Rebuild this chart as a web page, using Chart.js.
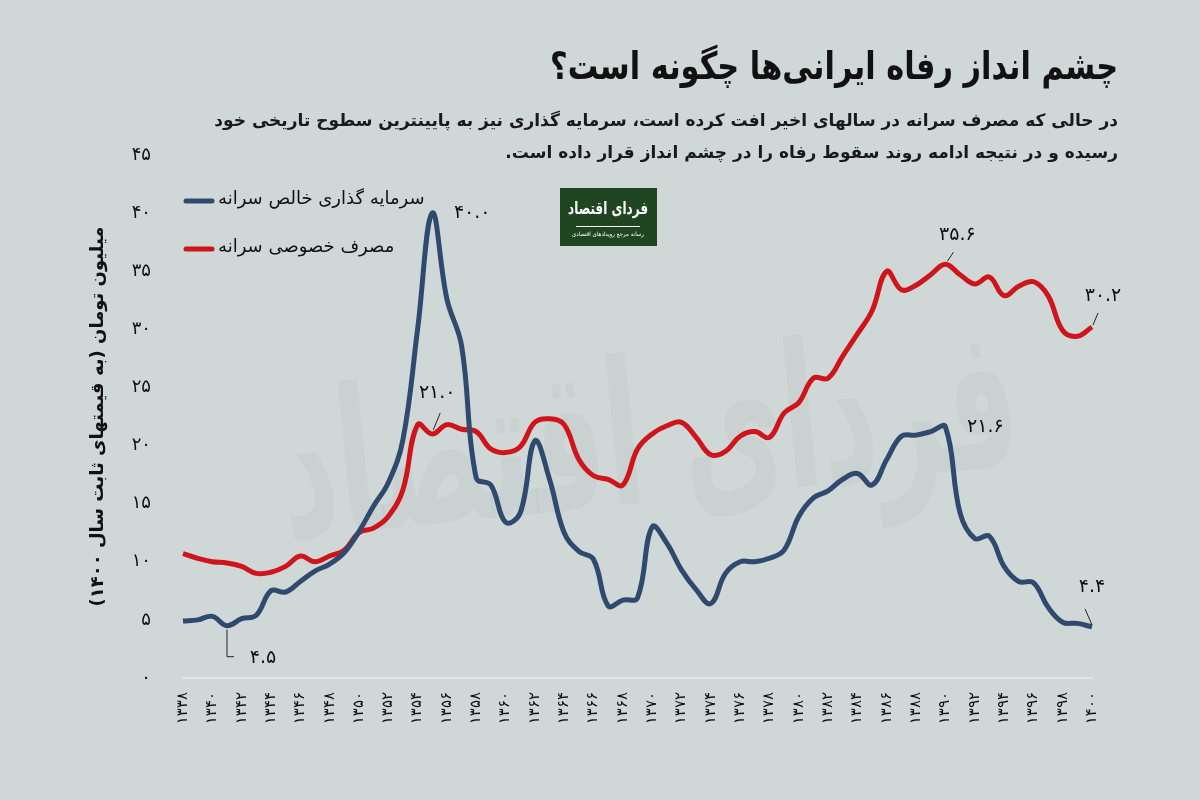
<!DOCTYPE html>
<html>
<head>
<meta charset="utf-8">
<script src="https://cdn.jsdelivr.net/npm/chart.js@4.4.0/dist/chart.umd.min.js"></script>
<style>
  body { margin: 0; background: #cfd8d7; }
  #wrap { position: relative; width: 1200px; height: 800px; background: #cfd8d7; overflow: hidden; }
  #title { position: absolute; right: 82px; top: 44px; direction: rtl; white-space: nowrap;
           font: bold 38px 'DejaVu Sans'; color: #111; transform: scaleX(0.8); transform-origin: right center; }
  #subtitle { position: absolute; right: 82px; top: 104px; direction: rtl; text-align: right;
              font: bold 17px 'DejaVu Sans'; line-height: 32px; color: #1a1a1a; }
  canvas { position: absolute; left: 0; top: 0; direction: rtl; }
</style>
</head>
<body>
<div id="wrap">
  <canvas id="welfareChart" width="1200" height="800" dir="rtl"></canvas>
  <div id="title">چشم انداز رفاه ایرانی‌ها چگونه است؟</div>
  <div id="subtitle">در حالی که مصرف سرانه در سالهای اخیر افت کرده است، سرمایه گذاری نیز به پایینترین سطوح تاریخی خود<br>رسیده و در نتیجه ادامه روند سقوط رفاه را در چشم انداز قرار داده است.</div>
</div>
<script>
// years (solar hijri)
const years = [1338, 1339, 1340, 1341, 1342, 1343, 1344, 1345, 1346, 1347, 1348, 1349, 1350,
  1351, 1352, 1353, 1354, 1355, 1356, 1357, 1358, 1359, 1360, 1361, 1362, 1363, 1364, 1365,
  1366, 1367, 1368, 1369, 1370, 1371, 1372, 1373, 1374, 1375, 1376, 1377, 1378, 1379, 1380,
  1381, 1382, 1383, 1384, 1385, 1386, 1387, 1388, 1389, 1390, 1391, 1392, 1393, 1394, 1395,
  1396, 1397, 1398, 1399, 1400];

// net investment per capita (million toman, 1400 prices)
const investment = [4.9, 5.0, 5.3, 4.5, 5.1, 5.4, 7.5, 7.4, 8.3, 9.2, 9.8, 10.8, 12.6,
  14.8, 16.8, 20.5, 30.0, 40.0, 32.6, 28.6, 17.2, 16.6, 13.4, 14.2, 20.4, 17.1, 12.5, 10.9,
  10.2, 6.2, 6.7, 6.9, 13.0, 11.6, 9.3, 7.6, 6.4, 9.0, 10.0, 10.0, 10.3, 11.0, 13.9,
  15.5, 16.1, 17.1, 17.6, 16.6, 18.8, 20.8, 20.9, 21.2, 21.6, 14.2, 12.0, 12.2, 9.6, 8.3,
  8.2, 6.1, 4.8, 4.7, 4.4];

// private consumption per capita
const consumption = [10.7, 10.3, 10.0, 9.9, 9.6, 9.0, 9.1, 9.6, 10.5, 10.0, 10.5, 11.0, 12.5,
  12.9, 13.9, 16.2, 21.8, 21.0, 21.8, 21.4, 21.2, 19.7, 19.4, 19.9, 22.0, 22.3, 21.8, 18.8,
  17.4, 17.1, 16.6, 19.7, 21.0, 21.7, 22.0, 20.7, 19.2, 19.5, 20.8, 21.2, 20.7, 22.8, 23.7,
  25.8, 25.8, 27.7, 29.6, 31.6, 35.0, 33.4, 33.8, 34.7, 35.6, 34.7, 33.9, 34.5, 32.9, 33.7,
  34.1, 32.9, 29.9, 29.4, 30.2];

const seriesNames = ['سرمایه گذاری خالص سرانه', 'مصرف خصوصی سرانه'];
const yTitle = 'میلیون تومان (به قیمتهای ثابت سال ۱۴۰۰)';

// labelled points: [dataset, year]
const calloutYears = [[0, 1341], [0, 1355], [1, 1355], [1, 1390], [0, 1390], [1, 1400], [0, 1400]];

const BLUE = '#2f4a6e';
const RED = '#cf151b';
const FONT = "'DejaVu Sans'";

function toFa(s) {
  return String(s).replace(/\d/g, d => '۰۱۲۳۴۵۶۷۸۹'[d]);
}

// offsets for the callouts (label centre + leader line), same order as calloutYears
const calloutStyle = [
  { dx: 36, dy: 32, leader: [[0, 4], [0, 31], [7, 31]] },
  { dx: 40, dy: 0, leader: null },
  { dx: 5, dy: -41, leader: [[1, -4], [8, -21]] },
  { dx: 12, dy: -29, leader: [[2, -3], [8, -12]] },
  { dx: 40, dy: 0, leader: null },
  { dx: 11, dy: -31, leader: [[1, -2], [6, -14]] },
  { dx: 0, dy: -40, leader: [[0, -2], [-7, -18]] }
];

const backdrop = {
  id: 'backdrop',
  beforeDatasetsDraw(chart) {
    const ctx = chart.ctx;
    ctx.save();
    // faint watermark
    ctx.translate(650, 450);
    ctx.rotate(-0.1);
    ctx.fillStyle = 'rgba(140,150,150,0.09)';
    ctx.font = 'bold 200px ' + FONT;
    ctx.textAlign = 'center';
    ctx.textBaseline = 'middle';
    ctx.fillText('فردای اقتصاد', 0, 0, 740);
    ctx.restore();

    // logo box
    ctx.save();
    ctx.fillStyle = '#1f4621';
    ctx.fillRect(560, 188, 97, 58);
    ctx.fillStyle = '#fff';
    ctx.textAlign = 'center';
    ctx.textBaseline = 'middle';
    ctx.font = 'bold 17px ' + FONT;
    ctx.fillText('فردای اقتصاد', 608, 210, 80);
    ctx.fillRect(576, 226, 64, 1);
    ctx.font = '6px ' + FONT;
    ctx.fillText('رسانه مرجع رویدادهای اقتصادی', 608, 234, 72);
    ctx.restore();
  }
};

const legendInside = {
  id: 'legendInside',
  afterDatasetsDraw(chart) {
    const ctx = chart.ctx;
    const rows = [[BLUE, 201], [RED, 249]];
    ctx.save();
    rows.forEach(([color, y], i) => {
      ctx.strokeStyle = color;
      ctx.lineWidth = 5;
      ctx.lineCap = 'round';
      ctx.beginPath();
      ctx.moveTo(186, y);
      ctx.lineTo(212, y);
      ctx.stroke();
      ctx.fillStyle = '#111';
      ctx.font = '18px ' + FONT;
      ctx.textAlign = 'left';
      ctx.textBaseline = 'middle';
      ctx.fillText(seriesNames[i], 218, y - 2);
    });
    ctx.restore();
  }
};

const callouts = {
  id: 'callouts',
  afterDatasetsDraw(chart) {
    const ctx = chart.ctx;
    ctx.save();
    calloutYears.forEach(([ds, yr], k) => {
      const idx = years.indexOf(yr);
      const pt = chart.getDatasetMeta(ds).data[idx];
      const val = chart.data.datasets[ds].data[idx];
      const st = calloutStyle[k];
      if (st.leader) {
        ctx.strokeStyle = '#222';
        ctx.lineWidth = 1;
        ctx.beginPath();
        st.leader.forEach(([lx, ly], j) => {
          if (j === 0) ctx.moveTo(pt.x + lx, pt.y + ly);
          else ctx.lineTo(pt.x + lx, pt.y + ly);
        });
        ctx.stroke();
      }
      ctx.fillStyle = '#111';
      ctx.font = '19px ' + FONT;
      ctx.textAlign = 'center';
      ctx.textBaseline = 'middle';
      ctx.fillText(toFa(val.toFixed(1)), pt.x + st.dx, pt.y + st.dy);
    });
    ctx.restore();
  }
};

const ctx = document.getElementById('welfareChart').getContext('2d');
const welfareChart = new Chart(ctx, {
  type: 'line',
  data: {
    labels: years,
    datasets: [{
      label: seriesNames[0],
      data: investment,
      borderColor: BLUE,
      borderWidth: 5,
      pointRadius: 0,
      tension: 0.4,
      fill: false
    }, {
      label: seriesNames[1],
      data: consumption,
      borderColor: RED,
      borderWidth: 5,
      pointRadius: 0,
      tension: 0.4,
      fill: false
    }]
  },
  options: {
    responsive: false,
    animation: false,
    devicePixelRatio: 1,
    layout: { padding: { top: 155, right: 108, bottom: 0, left: 0 } },
    plugins: {
      legend: { display: false },
      tooltip: { enabled: false }
    },
    scales: {
      x: {
        grid: { display: false, drawTicks: false },
        border: { display: true, color: 'rgba(255,255,255,0.35)', width: 2 },
        afterFit(scale) { scale.height = 122; },
        ticks: {
          autoSkip: false,
          maxRotation: 90,
          minRotation: 90,
          padding: 14,
          color: '#111',
          font: { family: FONT, size: 15 },
          callback(value, index) {
            return index % 2 === 0 ? toFa(years[index]) : '';
          }
        }
      },
      y: {
        min: 0,
        max: 45,
        grid: { display: false, drawTicks: false },
        border: { display: false },
        afterFit(scale) { scale.width = 183; },
        title: {
          display: true,
          text: yTitle,
          color: '#111',
          font: { family: FONT, size: 18, weight: 'bold' },
          padding: { top: 88, bottom: 0 }
        },
        ticks: {
          stepSize: 5,
          padding: 32,
          color: '#111',
          font: { family: FONT, size: 18 },
          callback(value) { return toFa(value); }
        }
      }
    }
  },
  plugins: [backdrop, legendInside, callouts]
});
</script>
</body>
</html>
